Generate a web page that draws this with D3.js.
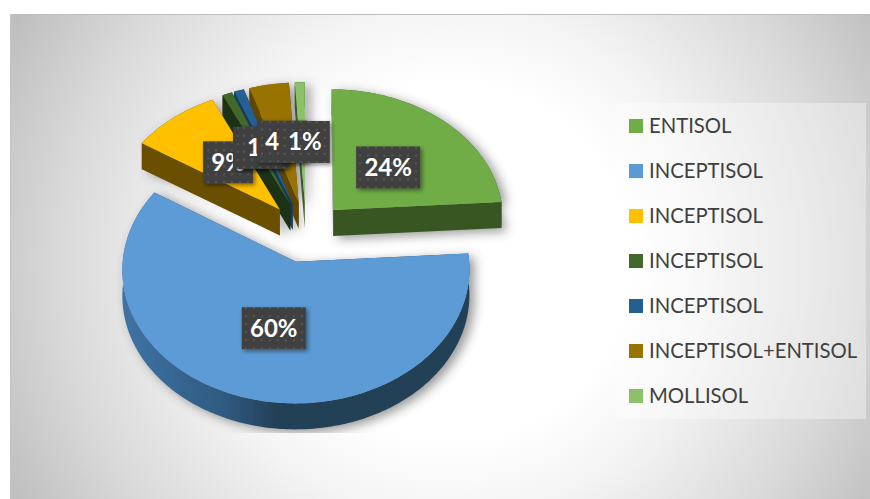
<!DOCTYPE html>
<html><head><meta charset="utf-8">
<script src="https://cdn.jsdelivr.net/npm/d3@7"></script>
<style>html,body{margin:0;padding:0;background:#fff}svg{display:block}</style>
</head><body><svg id="c" width="870" height="499"></svg>
<script>
const categories = ["ENTISOL","INCEPTISOL","INCEPTISOL","INCEPTISOL","INCEPTISOL","INCEPTISOL+ENTISOL","MOLLISOL"];
const values = [24,60,9,1,1,4,1];
const valueLabels = ["24%","60%","9%","1%","1%","4%","1%"];
const topColors = ["#70ad47","#5b9bd5","#ffc000","#43682b","#255e91","#997300","#8cc168"];
const wallColors = ["#385723","#2a4a68","#6b5000","#1f3314","#173a5a","#5e4700","#3d5a2a"];
// pixel nudges of the data labels from each slice's label anchor
const labelNudges = [[-10,10],[4,-11],[11,7],[5,9],[3,11],[1,9],[3,11]];

const W=870,H=499;
const svg=d3.select("#c");
const defs=svg.append("defs");
const bg=defs.append("radialGradient").attr("id","bg").attr("gradientUnits","userSpaceOnUse")
  .attr("cx",450).attr("cy",262).attr("r",495);
[[.36,"#ffffff"],[.52,"#f4f4f4"],[.8,"#d8d8d8"],[1,"#bfbfbf"]].forEach(d=>bg.append("stop").attr("offset",d[0]).attr("stop-color",d[1]));
const rim=defs.append("linearGradient").attr("id","rimBlue").attr("gradientUnits","userSpaceOnUse")
  .attr("x1",120).attr("x2",470).attr("y1",0).attr("y2",0);
[[0,"#3f74a6"],[.3,"#2f5a80"],[.45,"#243f56"],[1,"#243f56"]].forEach(d=>rim.append("stop").attr("offset",d[0]).attr("stop-color",d[1]));
const pat=defs.append("pattern").attr("id","dots").attr("width",8).attr("height",8).attr("patternUnits","userSpaceOnUse");
pat.append("rect").attr("width",8).attr("height",8).attr("fill","#404040");
pat.append("rect").attr("x",3).attr("y",3).attr("width",2).attr("height",2).attr("fill","#565656");
const sh=defs.append("filter").attr("id","pieShadow").attr("x","-20%").attr("y","-20%").attr("width","140%").attr("height","140%");
sh.append("feGaussianBlur").attr("stdDeviation",5.5);
const ls=defs.append("filter").attr("id","lblShadow").attr("x","-30%").attr("y","-30%").attr("width","160%").attr("height","160%");
ls.append("feDropShadow").attr("dx",2).attr("dy",2).attr("stdDeviation",2).attr("flood-color","#000").attr("flood-opacity",.45);
const soft=defs.append("filter").attr("id","soft").attr("x","-5%").attr("y","-5%").attr("width","110%").attr("height","110%");
soft.append("feGaussianBlur").attr("stdDeviation",.6);
defs.append("clipPath").attr("id","plot").append("rect").attr("x",80).attr("y",60).attr("width",470).attr("height",373);

// chart area
svg.append("rect").attr("x",10).attr("y",14).attr("width",W-10).attr("height",H-14).attr("fill","url(#bg)");
svg.append("line").attr("x1",10).attr("x2",W).attr("y1",14.5).attr("y2",14.5).attr("stroke","#bdbdbd");
svg.append("line").attr("x1",10.5).attr("x2",10.5).attr("y1",14).attr("y2",H).attr("stroke","#c4c4c4");

// 3D projection of the exploded pie
const cx=306,cy=232,R=171,explode=40,tilt=.76,D=3000,depth=26;
function project(X,Y,z){const s=D/(D-Y);return [cx+X*s,cy+tilt*Y*s+z];}
const arcs=d3.pie().sort(null).startAngle(0).endAngle(2*Math.PI)(values);
const line=d3.line();
const slices=arcs.map((a,i)=>{
  const mid=(a.startAngle+a.endAngle)/2;
  const ox=explode*Math.sin(mid),oy=-explode*Math.cos(mid);
  const n=Math.max(4,Math.ceil((a.endAngle-a.startAngle)/.02));
  const angles=d3.range(n+1).map(k=>a.startAngle+(a.endAngle-a.startAngle)*k/n);
  const pt=(r,t,z)=>project(ox+r*Math.sin(t),oy-r*Math.cos(t),z);
  return {i,mid,ox,oy,angles,pt,key:oy-.66*R*Math.cos(mid)};
}).sort((p,q)=>p.key-q.key);

const pie=svg.append("g").attr("clip-path","url(#plot)");
// cast shadow
const shadow=pie.append("g").attr("filter","url(#pieShadow)").attr("opacity",.5).attr("transform","translate(5,3)");
slices.forEach(s=>{
  const pts=[s.pt(0,0,6),...s.angles.map(t=>s.pt(R,t,depth)),s.pt(0,0,depth)];
  const top=[s.pt(0,0,0),...s.angles.map(t=>s.pt(R,t,0))];
  shadow.append("path").attr("d",line(pts)+"Z").attr("fill","#333");
  shadow.append("path").attr("d",line(top)+"Z").attr("fill","#333");
});
const body=pie.append("g").attr("filter","url(#soft)");
slices.forEach(s=>{
  const wall=s.i===1?"url(#rimBlue)":wallColors[s.i];
  const a0=s.angles[0],a1=s.angles[s.angles.length-1];
  [a0,a1].forEach(t=>{
    body.append("path").attr("d",line([s.pt(0,0,0),s.pt(R,t,0),s.pt(R,t,depth),s.pt(0,0,depth)])+"Z").attr("fill",wallColors[s.i]);
  });
  const rimPts=[...s.angles.map(t=>s.pt(R,t,0)),...s.angles.slice().reverse().map(t=>s.pt(R,t,depth))];
  body.append("path").attr("d",line(rimPts)+"Z").attr("fill",wall);
  const top=[s.pt(0,0,0),...s.angles.map(t=>s.pt(R,t,0))];
  body.append("path").attr("d",line(top)+"Z").attr("fill",topColors[s.i]);
});

// data labels (drawn in series order; later ones cover earlier ones)
const sizes=valueLabels.map(l=>l.length>2?64:50);
const byIndex=d3.index(slices,s=>s.i);
valueLabels.forEach((l,i)=>{
  const s=byIndex.get(i);
  const p=s.pt(R*.58,s.mid,0);
  const x=p[0]+labelNudges[i][0],y=p[1]+labelNudges[i][1];
  const g=svg.append("g").attr("transform",`translate(${x},${y})`);
  g.append("rect").attr("x",-sizes[i]/2).attr("y",-21).attr("width",sizes[i]).attr("height",42)
    .attr("fill","url(#dots)").attr("filter","url(#lblShadow)");
  g.append("text").attr("text-anchor","middle").attr("y",8.5).attr("fill","#fff")
    .attr("font-family","Lato").attr("font-weight",700).attr("font-size",24).text(l);
});

// legend
const leg=svg.append("g");
leg.append("rect").attr("x",616).attr("y",103).attr("width",250).attr("height",316).attr("fill","#fff").attr("fill-opacity",.35);
const ly=d3.scalePoint().domain(d3.range(categories.length)).range([126,396]);
categories.forEach((c,i)=>{
  leg.append("rect").attr("x",629).attr("y",ly(i)-7).attr("width",14).attr("height",14).attr("fill",topColors[i]);
  leg.append("text").attr("x",649).attr("y",ly(i)+7).attr("font-family","Lato").attr("font-size",20.3).attr("fill","#404040").text(c);
});
</script></body></html>
